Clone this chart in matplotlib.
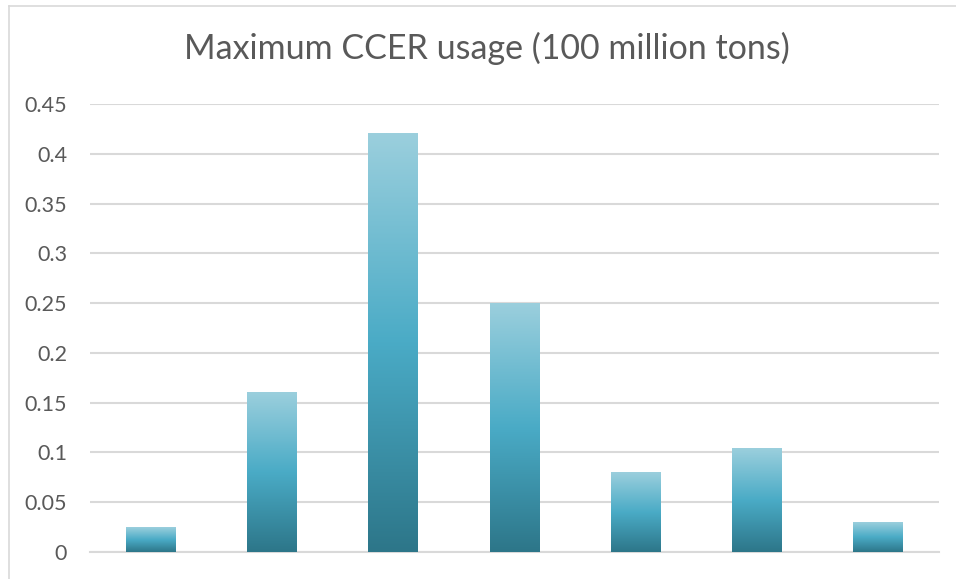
import matplotlib.pyplot as plt
import numpy as np
from matplotlib.colors import LinearSegmentedColormap
from matplotlib.lines import Line2D

# Données
categories = ['1', '2', '3', '4', '5', '6', '7']
valeurs = [0.025, 0.16, 0.42, 0.25, 0.08, 0.104, 0.03]
graduations = [0, 0.05, 0.1, 0.15, 0.2, 0.25, 0.3, 0.35, 0.4, 0.45]
etiquettes = ['0', '0.05', '0.1', '0.15', '0.2', '0.25', '0.3', '0.35', '0.4', '0.45']

plt.rcParams['font.family'] = ['Lato', 'DejaVu Sans']

fig = plt.figure(figsize=(9.56, 5.79), dpi=100)
ax = fig.add_axes([90 / 956, 1 - 552 / 579, 849 / 956, 448 / 579])

# dégradé : foncé en bas, clair en haut
degrade = LinearSegmentedColormap.from_list(
    'ccer', ['#2D7689', '#4AABC6', '#9BCFDD'])
grad = np.linspace(0, 1, 256).reshape(-1, 1)

x = np.arange(len(categories))
largeur = 0.41
barres = ax.bar(x, valeurs, width=largeur, color='none', zorder=3)
for b in barres:
    x0, y0 = b.get_x(), b.get_y()
    w, h = b.get_width(), b.get_height()
    ax.imshow(grad, cmap=degrade, origin='lower', aspect='auto',
              extent=(x0, x0 + w, y0, y0 + h), zorder=3)

ax.set_xlim(-0.5, len(categories) - 0.5)
ax.set_ylim(0, 0.45)
ax.set_yticks(graduations)
ax.set_yticklabels(etiquettes)
ax.set_xticks([])
ax.tick_params(axis='y', length=0, pad=16.5, labelsize=15.5, labelcolor='#595959')
ax.grid(axis='y', color='#D9D9D9', linewidth=1.5, zorder=0)
for s in ['top', 'right', 'left']:
    ax.spines[s].set_visible(False)
ax.spines['bottom'].set_color('#D9D9D9')
ax.spines['bottom'].set_linewidth(1.5)

fig.text(0.509, 1 - 48 / 579, 'Maximum CCER usage (100 million tons)',
         ha='center', va='center', fontsize=24.5, color='#595959')

# cadre du graphique
fig.add_artist(Line2D([8.5 / 956, 8.5 / 956], [0, 1 - 6 / 579],
                      color='#D9D9D9', linewidth=1.2))
fig.add_artist(Line2D([8.5 / 956, 1], [1 - 6 / 579, 1 - 6 / 579],
                      color='#D9D9D9', linewidth=1.2))

fig.savefig('out.png', dpi=100)
